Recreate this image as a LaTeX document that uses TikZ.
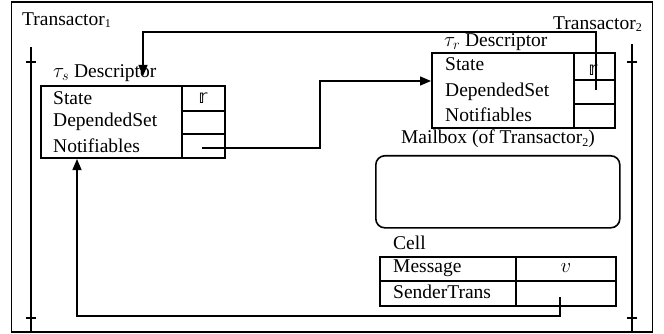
\documentclass[tikz,border=0pt]{standalone}
\usepackage{fontspec}
\setmainfont{Liberation Serif}
\newfontfamily\dejavu{DejaVu Sans}
\usetikzlibrary{arrows.meta}
\newcommand{\sbx}[1]{\raisebox{-0.3ex}{\fontsize{12}{12}\selectfont #1}}
\newcommand{\dsr}{{\dejavu\fontsize{19}{19}\selectfont 𝕣}}
\begin{document}
\begin{tikzpicture}[x=1pt,y=-1pt,
  txt/.style={inner sep=0pt, font=\fontsize{19.5}{23}\selectfont},
  boxframe/.style={draw, line width=2pt, rectangle, inner sep=0pt},
  sep/.style={line width=2pt},
  conn/.style={line width=1.4pt},
  arr/.style={conn, -{Triangle[length=11pt,width=9pt]}},
  timeline/.style={line width=1.5pt}]
\useasboundingbox (0,0) rectangle (664,334);
% outer frame
\node[draw, line width=1.6pt, rectangle, inner sep=0pt, minimum width=641pt, minimum height=329.5pt, anchor=north west] (frame) at (10.5,1.5) {};
% timelines
\coordinate (l1) at (31,47); \coordinate (l2) at (31,331);
\draw[timeline] (l1) -- (l2);
\draw[timeline] (26,62) -- (36,62);
\draw[timeline] (26,318) -- (36,318);
\coordinate (r1) at (632,44); \coordinate (r2) at (632,331);
\draw[timeline] (r1) -- (r2);
\draw[timeline] (627,62) -- (637,62);
\draw[timeline] (627,318) -- (637,318);
% titles
\node[txt, anchor=west] (t1) at (22,20) {Transactor\sbx{1}};
\node[txt, anchor=east] (t2) at (642,24) {Transactor\sbx{2}};
% tau_s descriptor
\node[txt, anchor=west] (tsl) at (53,73) {$\tau_s$ Descriptor};
\node[boxframe, minimum width=184pt, minimum height=72pt, anchor=north west] (ts) at (40,85) {};
\draw[sep] (182,85) -- (182,157);
\draw[sep] (182,111) -- (224,111);
\draw[sep] (182,134) -- (224,134);
\node[txt, anchor=west] (tsS) at (53,98) {State};
\node[txt, anchor=west] (tsD) at (53,122) {DependedSet};
\node[txt, anchor=west] (tsN) at (53,145.5) {Notifiables};
\node[inner sep=0pt] (tsR) at (203,98) {\dsr};
% tau_r descriptor
\node[txt, anchor=west] (trl) at (444,42) {$\tau_r$ Descriptor};
\node[boxframe, minimum width=183pt, minimum height=75pt, anchor=north west] (tr) at (431,52) {};
\draw[sep] (574,52) -- (574,127);
\draw[sep] (574,80) -- (614,80);
\draw[sep] (574,104) -- (614,104);
\node[txt, anchor=west] (trS) at (445,64) {State};
\node[txt, anchor=west] (trD) at (445,92) {DependedSet};
\node[txt, anchor=west] (trN) at (445,115) {Notifiables};
\node[inner sep=0pt] (trR) at (593,70) {\dsr};
% mailbox
\node[txt] (mbl) at (498,139) {Mailbox (of Transactor\sbx{2})};
\node[draw, line width=1.6pt, rectangle, rounded corners=9pt, inner sep=0pt, minimum width=244pt, minimum height=72pt, anchor=north west] (mb) at (375,155) {};
% cell
\node[txt, anchor=west] (cl) at (393,243) {Cell};
\node[boxframe, minimum width=236pt, minimum height=49pt, anchor=north west] (cell) at (379,256) {};
\draw[sep] (516,256) -- (516,305);
\draw[sep] (379,281) -- (615,281);
\node[txt, anchor=west] (cM) at (393,268) {Message};
\node[txt, anchor=west] (cS) at (393,292) {SenderTrans};
\node[txt] (cv) at (566,268) {$v$};
% connectors
\coordinate (a1) at (202,148);
\draw[arr] (a1) -- (320,148) -- (320,81) -- (tr.west |- 0,81);
\coordinate (a2) at (596,90);
\coordinate (a2end) at (143,76);
\draw[arr] (a2) -- (596,32) -- (143,32) -- (a2end);
\coordinate (a3) at (560,297);
\draw[arr] (a3) -- (560,316) -- (77,316) -- (ts.south -| 77,0);
\end{tikzpicture}
\end{document}
